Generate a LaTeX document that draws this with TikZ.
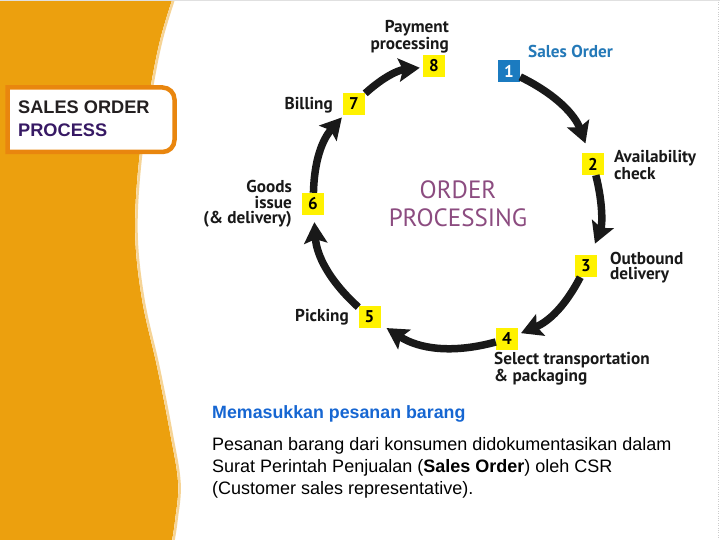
\documentclass[tikz,border=0pt]{standalone}
\usepackage{fontspec}
\setmainfont{Liberation Sans}
\newfontfamily\ptsans{PT Sans}
\usetikzlibrary{arrows.meta}
\definecolor{band}{RGB}{236,160,14}
\definecolor{bandedge}{RGB}{246,212,150}
\definecolor{boxorange}{RGB}{233,134,14}
\definecolor{titlepurple}{RGB}{55,25,100}
\definecolor{titleblack}{RGB}{35,31,32}
\definecolor{numyellow}{RGB}{255,242,0}
\definecolor{numblue}{RGB}{27,123,192}
\definecolor{soblue}{RGB}{36,121,184}
\definecolor{mauve}{RGB}{140,76,128}
\definecolor{headblue}{RGB}{22,102,210}
\tikzset{
 numbox/.style={fill=numyellow, minimum size=22pt, inner sep=0pt, font=\ptsans\bfseries\fontsize{17}{17}\selectfont},
 lab/.style={inner sep=0pt, font=\ptsans\bfseries\fontsize{17.2}{15.5}\selectfont, text=black!90},
 cyc/.style={line width=7.5pt, -{Stealth[length=21pt,width=23pt,inset=4pt]}, black!90},
}
\begin{document}
\begin{tikzpicture}[x=1pt,y=1pt]
\useasboundingbox (0,0) rectangle (720,540);
\fill[white] (0,0) rectangle (720,540);
% orange band
\fill[band] (0,0) -- (0,540) -- plot[smooth,tension=0.6] coordinates {(172,540) (160,500) (150,450) (139,380) (135,307) (142,240) (157,173) (170,107) (178,57) (175,20) (172,0)} -- cycle;
\draw[bandedge, line width=2.5pt, xshift=1.5pt] plot[smooth,tension=0.6] coordinates {(172,540) (160,500) (150,450) (139,380) (135,307) (142,240) (157,173) (170,107) (178,57) (175,20) (172,0)};
\draw[black!12, line width=1pt] (0,539.5) -- (720,539.5);
\draw[black!20, dotted] (718,0) -- (718,540);
% title box
\draw[boxorange, line width=4.5pt, fill=white] (7.5,388) -- (7.5,452.5) -- (162.5,452.5) arc[start angle=90,end angle=0,radius=12] -- (174.5,400) arc[start angle=0,end angle=-90,radius=12] -- cycle;
\node[anchor=base west, inner sep=0pt, font=\bfseries\fontsize{18.2}{18}\selectfont, text=titleblack] (title1) at (18,426) {SALES ORDER};
\node[anchor=base west, inner sep=0pt, font=\bfseries\fontsize{18.2}{18}\selectfont, text=titlepurple] (title2) at (18,403) {PROCESS};
% numbered steps
\node[numbox, fill=numblue, text=white] (n1) at (509,468.5) {1};
\node[numbox] (n2) at (593,376) {2};
\node[numbox] (n3) at (586,274) {3};
\node[numbox] (n4) at (507,201) {4};
\node[numbox] (n5) at (369.5,223) {5};
\node[numbox] (n6) at (313,336) {6};
\node[numbox] (n7) at (354,436) {7};
\node[numbox] (n8) at (434,474) {8};
% labels
\node[lab, anchor=east, align=right] (l8) at (449,503.5) {Payment\\processing};
\node[lab, anchor=west, text=soblue] (l1) at (528,489) {Sales Order};
\node[lab, anchor=west, align=left] (l2) at (614,375) {Availability\\check};
\node[lab, anchor=west, align=left] (l3) at (610,272.5) {Outbound\\delivery};
\node[lab, anchor=west, align=left] (l4) at (494,171) {Select transportation\\\& packaging};
\node[lab, anchor=east] (l5) at (349,223) {Picking};
\node[lab, anchor=east, align=right] (l6) at (292,336) {Goods\\issue\\(\& delivery)};
\node[lab, anchor=east] (l7) at (333,435) {Billing};
\node[inner sep=0pt, font=\ptsans\fontsize{25}{28}\selectfont, text=mauve, align=center] (center) at (458,336) {ORDER\\PROCESSING};
% arrows
\draw[cyc, shorten >=10pt] (n1) to[bend left=22] (n2);
\draw[cyc, shorten >=12pt] (n2) to[bend left=18] (n3);
\draw[cyc, shorten >=3pt] (n3) to[bend left=20] (n4);
\draw[cyc, shorten >=7pt] (n4) to[bend left=24] (n5);
\draw[cyc, shorten >=7pt] (n5) to[bend left=22] (n6);
\draw[cyc, shorten >=3pt] (n6) to[bend left=20] (n7);
\draw[cyc, shorten >=3pt] (n7) to[bend left=18] (n8);
% description
\node[anchor=base west, inner sep=0pt, font=\bfseries\fontsize{17.8}{22}\selectfont, text=headblue] (head) at (212,121) {Memasukkan pesanan barang};
\node[anchor=north west, inner sep=0pt, font=\fontsize{18}{22}\selectfont, align=left] (body) at (212,102.8) {Pesanan barang dari konsumen didokumentasikan dalam\\Surat Perintah Penjualan (\textbf{Sales Order}) oleh CSR\\(Customer sales representative).};
\end{tikzpicture}
\end{document}
